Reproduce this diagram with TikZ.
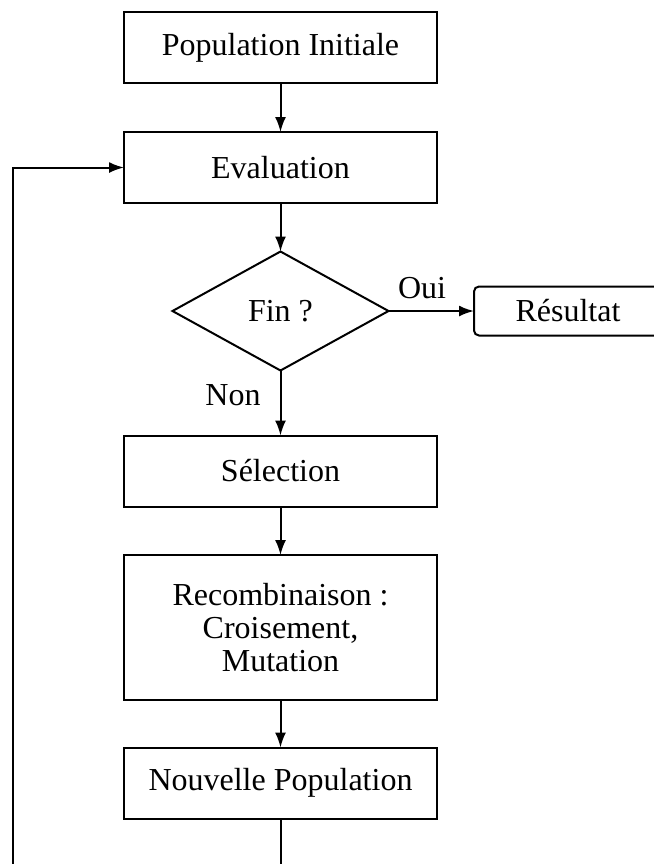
\documentclass[tikz,border=0pt]{standalone}
\usepackage{fontspec}
\setmainfont{Liberation Serif}
\usepackage{tikz}
\usetikzlibrary{shapes,arrows,arrows.meta,calc}

\tikzset{
  bloc/.style={draw, line width=1pt, minimum width=156.5pt, minimum height=35.5pt, inner sep=0pt},
  test/.style={draw, diamond, line width=1pt, minimum width=108pt, minimum height=59.5pt, inner sep=0pt},
  sortie/.style={draw, rounded corners=2.5pt, line width=1pt, minimum width=94pt, minimum height=24.5pt, inner sep=0pt},
  fleche/.style={->, line width=1pt}
}

\begin{document}
\begin{tikzpicture}[auto, outer sep=0pt, node distance=0cm, >={Latex[length=7.5pt,width=5.5pt]}, x=0.5pt, y=-0.5pt,
  font=\fontsize{16}{16.5}\selectfont]

\useasboundingbox (0,0) rectangle (654,864);

\node [bloc] at (280.5, 47.5) (init) {Population Initiale};
\node [bloc] at (280.5, 167.5) (eval) {Evaluation};
\node [test] at (280.5, 311) (fin) {Fin ?};
\node [sortie] at (568, 311) (res) {Résultat};
\node [bloc] at (280.5, 471) (sel) {Sélection};
\node [bloc, minimum height=72.5pt, align=center] at (280.5, 627.5) (recomb) {Recombinaison :\\Croisement,\\Mutation};
\node [bloc] at (280.5, 783) (nouv) {Nouvelle Population};

\node at (422, 288) (oui) {Oui};
\node at (233, 395) (non) {Non};

\draw [fleche] (init) -- (eval);
\draw [fleche] (eval) -- (fin);
\draw [fleche] (fin.east) -- (res.west);
\draw [fleche] (fin.south) -- (sel.north);
\draw [fleche] (sel) -- (recomb);
\draw [fleche] (recomb) -- (nouv);

% retour vers l'evaluation
\coordinate (boucle) at (13, 900);
\draw [fleche] (nouv.south) -- (nouv.south |- boucle) -- (boucle) -- (boucle |- eval.west) -- (eval.west);

\end{tikzpicture}
\end{document}
